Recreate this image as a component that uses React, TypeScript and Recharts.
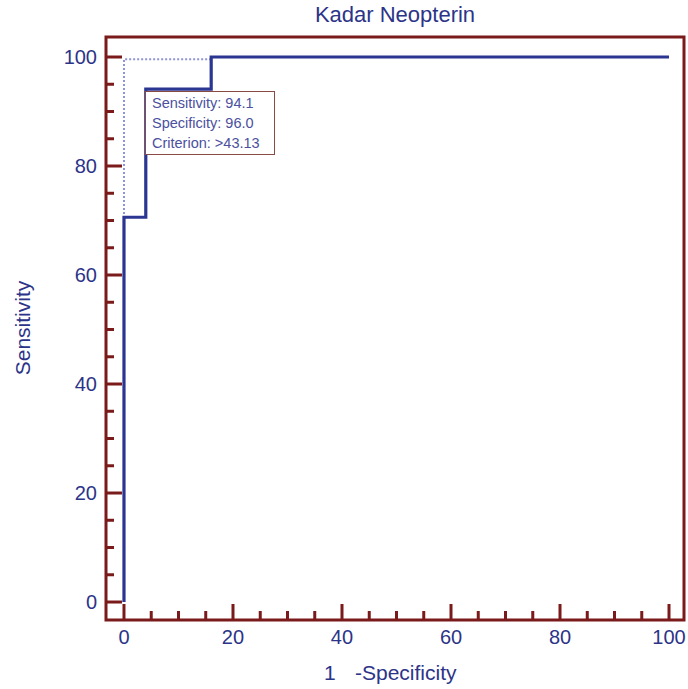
import { LineChart, Line, XAxis, YAxis, ReferenceArea } from "recharts";

// ROC curve (1 - specificity, sensitivity)
const rocFpr = [0, 0, 4, 4, 16, 16, 100];
const rocTpr = [0, 70.6, 70.6, 94.1, 94.1, 100, 100];
// dotted bound
const ciFpr = [0, 0, 16];
const ciTpr = [0, 99.6, 99.6];

const tickValues = [0, 5, 10, 15, 20, 25, 30, 35, 40, 45, 50, 55, 60, 65, 70, 75, 80, 85, 90, 95, 100];
const majorTicks = [0, 20, 40, 60, 80, 100];
const infoLines = ["Sensitivity: 94.1", "Specificity: 96.0", "Criterion: >43.13"];

const rocData = rocFpr.map((x, i) => ({ x, y: rocTpr[i] }));
const ciData = ciFpr.map((x, i) => ({ x, y: ciTpr[i] }));

const X_DOMAIN: [number, number] = [-3.3, 102.75];
const Y_DOMAIN: [number, number] = [-3.3, 103.67];

const FRAME = "#7a1a1a";
const INK = "#2c3488";
const FONT = "'Liberation Sans', Arial, sans-serif";

const YTick = (props: any) => {
  const { x, y, payload } = props;
  const major = majorTicks.includes(payload.value);
  return (
    <g>
      <line x1={x} x2={x + (major ? 16 : 8)} y1={y} y2={y} stroke={FRAME} strokeWidth={3} />
      {major && (
        <text x={x - 9} y={y + 7} textAnchor="end" fill={INK} fontSize={20} fontFamily={FONT}>
          {payload.value}
        </text>
      )}
    </g>
  );
};

const XTick = (props: any) => {
  const { x, y, payload } = props;
  const major = majorTicks.includes(payload.value);
  return (
    <g>
      <line x1={x} x2={x} y1={y} y2={y - (major ? 16 : 9)} stroke={FRAME} strokeWidth={3} />
      {major && (
        <text x={x} y={y + 24} textAnchor="middle" fill={INK} fontSize={20} fontFamily={FONT}>
          {payload.value}
        </text>
      )}
    </g>
  );
};

export default function App() {
  return (
    <div
      style={{
        position: "fixed",
        left: 0,
        top: 0,
        width: 688,
        height: 689,
        overflow: "hidden",
        background: "#fff",
        fontFamily: FONT,
      }}
    >
      <div style={{ position: "absolute", left: 8, top: 8 }}>
        <LineChart width={680} height={681} margin={{ top: 29, right: 4, bottom: 0, left: 0 }}>
          <XAxis
            type="number"
            dataKey="x"
            domain={X_DOMAIN}
            ticks={tickValues}
            interval={0}
            height={69}
            tickSize={0}
            tickMargin={0}
            axisLine={false}
            tickLine={false}
            tick={<XTick />}
            allowDataOverflow
          />
          <YAxis
            type="number"
            dataKey="y"
            domain={Y_DOMAIN}
            ticks={tickValues}
            interval={0}
            width={98}
            tickSize={0}
            tickMargin={0}
            axisLine={false}
            tickLine={false}
            tick={<YTick />}
            allowDataOverflow
          />
          <Line
            data={ciData}
            dataKey="y"
            type="linear"
            stroke="#8d95d8"
            strokeWidth={2}
            strokeDasharray="2 2"
            dot={false}
            isAnimationActive={false}
          />
          <Line
            data={rocData}
            dataKey="y"
            type="linear"
            stroke="#2b3592"
            strokeWidth={3.2}
            dot={false}
            isAnimationActive={false}
          />
          <ReferenceArea
            x1={X_DOMAIN[0]}
            x2={X_DOMAIN[1]}
            y1={Y_DOMAIN[0]}
            y2={Y_DOMAIN[1]}
            fill="none"
            fillOpacity={0}
            stroke={FRAME}
            strokeWidth={3}
            ifOverflow="visible"
          />
        </LineChart>
      </div>

      <div
        style={{
          position: "absolute",
          left: 395,
          top: 3,
          transform: "translateX(-50%)",
          whiteSpace: "nowrap",
          fontSize: 22,
          color: INK,
          lineHeight: "24px",
        }}
      >
        Kadar Neopterin
      </div>

      <div
        style={{
          position: "absolute",
          left: 23,
          top: 328,
          transform: "translate(-50%, -50%) rotate(-90deg)",
          fontSize: 21,
          color: INK,
          whiteSpace: "nowrap",
        }}
      >
        Sensitivity
      </div>

      <div style={{ position: "absolute", left: 324, top: 662, fontSize: 21, color: INK, lineHeight: "22px" }}>1</div>
      <div style={{ position: "absolute", left: 355, top: 662, fontSize: 21, color: INK, lineHeight: "22px" }}>
        -Specificity
      </div>

      <div
        style={{
          position: "absolute",
          left: 145,
          top: 91,
          width: 130,
          height: 64,
          border: "1.5px solid #8a4a44",
          background: "#fff",
          color: "#4b50a0",
          fontSize: 14.5,
          lineHeight: "20px",
          paddingLeft: 6,
          paddingTop: 1,
          boxSizing: "border-box",
        }}
      >
        {infoLines.map((t) => (
          <div key={t}>{t}</div>
        ))}
      </div>
    </div>
  );
}
